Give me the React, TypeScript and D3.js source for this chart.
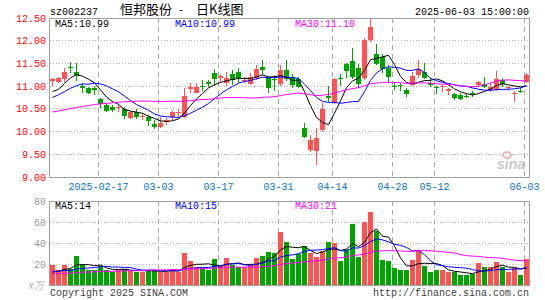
import React from 'react'
import * as d3 from 'd3'

// trading days shown (2025)
const dates = [
  '02-05','02-06','02-07','02-10','02-11','02-12','02-13','02-14','02-17','02-18',
  '02-19','02-20','02-21','02-24','02-25','02-26','02-27','02-28','03-03','03-04',
  '03-05','03-06','03-07','03-10','03-11','03-12','03-13','03-14','03-17','03-18',
  '03-19','03-20','03-21','03-24','03-25','03-26','03-27','03-28','03-31','04-01',
  '04-02','04-03','04-07','04-08','04-09','04-10','04-11','04-14','04-15','04-16',
  '04-17','04-18','04-21','04-22','04-23','04-24','04-25','04-28','04-29','04-30',
  '05-06','05-07','05-08','05-09','05-12','05-13','05-14','05-15','05-16','05-19',
  '05-20','05-21','05-22','05-23','05-26','05-27','05-28','05-29','05-30','06-03',
]

const opens = [
  11.11,11.10,11.15,11.42,11.32,11.01,10.96,10.95,10.72,10.58,
  10.54,10.53,10.49,10.29,10.42,10.32,10.32,10.16,10.10,10.20,
  10.31,10.40,10.32,10.93,10.86,11.01,11.10,11.28,11.19,11.06,
  11.26,11.32,11.12,11.04,11.18,11.43,11.17,11.16,11.04,11.35,
  11.21,11.15,10.08,9.59,9.57,10.03,10.78,10.64,11.17,11.49,
  11.55,11.40,11.17,12.01,11.71,11.65,11.40,11.01,11.02,10.91,
  11.02,11.24,11.32,11.08,10.99,10.98,10.90,10.83,10.80,10.79,
  10.85,11.02,11.04,10.91,10.91,11.13,10.97,10.83,10.90,11.09,
]
const highs = [
  11.19,11.20,11.39,11.54,11.51,11.08,10.99,11.01,10.74,10.61,
  10.58,10.58,10.55,10.45,10.49,10.40,10.36,10.25,10.32,10.30,
  10.47,10.49,10.95,11.06,11.06,11.13,11.13,11.37,11.27,11.32,
  11.35,11.39,11.21,11.28,11.46,11.57,11.21,11.24,11.46,11.57,
  11.26,11.20,10.18,9.92,10.07,10.62,11.00,11.17,11.26,11.51,
  11.85,11.48,12.05,12.49,11.92,11.70,11.46,11.10,11.06,10.95,
  11.32,11.57,11.50,11.17,11.01,11.03,10.96,10.85,10.84,10.84,
  10.90,11.12,11.21,11.06,11.34,11.19,11.01,10.90,10.95,11.28,
]
const lows = [
  11.01,11.08,11.10,11.28,11.11,10.86,10.82,10.80,10.51,10.42,
  10.43,10.43,10.27,10.27,10.27,10.25,10.13,10.05,10.08,10.15,
  10.25,10.31,10.29,10.84,10.84,10.89,10.99,11.01,11.10,11.01,
  11.02,11.08,11.06,11.02,11.13,11.24,10.85,10.89,11.01,11.12,
  10.95,10.97,9.86,9.55,9.26,9.98,10.64,10.60,11.00,11.17,
  11.15,10.96,11.13,11.98,11.46,11.30,11.06,10.91,10.89,10.76,
  11.00,11.18,11.16,10.99,10.83,10.88,10.80,10.70,10.69,10.73,
  10.77,10.99,10.95,10.88,10.90,10.99,10.90,10.65,10.84,11.06,
]
const closes = [
  11.15,11.18,11.32,11.40,11.23,10.96,10.86,10.92,10.61,10.45,
  10.47,10.55,10.35,10.44,10.33,10.34,10.23,10.10,10.18,10.26,
  10.42,10.42,10.78,10.99,10.99,11.00,11.04,11.15,11.22,11.19,
  11.13,11.17,11.14,11.21,11.37,11.35,10.95,11.15,11.35,11.16,
  11.02,10.99,9.88,9.81,9.85,10.49,10.73,11.15,11.15,11.33,
  11.21,11.04,12.01,12.31,11.49,11.37,11.21,11.00,11.00,10.82,
  11.22,11.38,11.19,11.03,10.98,11.00,10.94,10.75,10.71,10.78,
  10.84,11.10,10.99,10.98,11.15,11.04,10.99,10.85,10.89,11.25,
]
// volume, 万手
const volumes = [
  19.7,14.9,19.7,15.9,28.2,20.6,14.9,14.9,18.7,14.9,
  13.0,14.9,15.9,14.9,12.4,12.4,14.9,14.9,13.0,12.4,
  15.9,12.4,31.4,23.8,17.4,16.5,14.3,25.4,18.1,26.6,
  19.7,17.4,17.4,19.7,26.6,28.2,32.3,31.4,51.4,41.8,
  25.4,30.1,37.7,31.4,27.6,33.0,41.8,40.3,23.8,34.9,
  58.6,27.6,60.2,70.4,52.0,24.4,23.5,17.1,14.3,14.3,
  24.4,33.9,19.0,13.3,14.3,14.3,13.3,12.4,10.1,10.1,
  10.8,21.9,17.4,17.4,22.8,17.4,12.4,16.5,10.1,25.4,
]

// sessions before the window, guessed from where the MA lines start
const priorCloses = [
  10.45,10.55,10.60,10.50,10.30,10.25,10.20,10.23,
  10.15,10.10,10.05,10.12,10.20,10.18,10.25,10.30,10.22,10.28,10.20,10.25,
  10.58,10.62,10.66,10.67,10.57,
  10.93,10.67,10.80,10.85,
]
const priorVolumes = [
  10,11,10.5,9.5,11,10,10.5,11,10,10.2,
  9,9.5,8.8,10,9.2,8.5,9.8,9.5,9,10,
  15,13.5,16,14,14,
  11,10.5,11.5,10.8,
]

const priceTicks = [12.5, 12, 11.5, 11, 10.5, 10, 9.5, 9]
const volTicks = [80, 60, 40, 20]
const dateTicks = ['02-17','03-03','03-17','03-31','04-14','04-28','05-12','06-03']
const dateTickLabels = ['2025-02-17','03-03','03-17','03-31','04-14','04-28','05-12','06-03']
const maPeriods = [5, 10, 30]
const maColors = ['#000000', '#0000ff', '#ff00ff']
const priceMaLabels = ['MA5:10.99', 'MA10:10.99', 'MA30:11.10']
const volMaLabels = ['MA5:14', 'MA10:15', 'MA30:21']

const W = 545, H = 300
const left = 50, right = 530
const mono = '"Liberation Mono", "DejaVu Sans Mono", monospace'
const UP = '#ff5252', DOWN = '#00a300'

const movingAvg = (prior: number[], vals: number[], n: number) => {
  const all = prior.concat(vals)
  return vals.map((_, i) => d3.mean(all.slice(prior.length + i - n + 1, prior.length + i + 1)) as number)
}

export default function App() {
  const x = d3.scaleBand<string>().domain(dates).range([left, right])
  const y = d3.scaleLinear().domain([9, 12.5]).range([177, 18])
  const yv = d3.scaleLinear().domain([0, 80]).range([285.5, 201.5])
  const cx = (i: number) => (x(dates[i]) as number) + 2.5
  const crisp = (v: number) => Math.floor(v) + 0.5

  const priceMa = maPeriods.map(n => movingAvg(priorCloses, closes, n))
  const volMa = maPeriods.map(n => movingAvg(priorVolumes, volumes, n))
  const pLine = d3.line<number>().x((_, i) => cx(i)).y(d => y(d))
  const vLine = d3.line<number>().x((_, i) => cx(i)).y(d => yv(d))

  return (
    <svg width={W} height={H} style={{ position: 'absolute', left: 0, top: 0, background: '#fff' }}>
      <rect width={W} height={H} fill="#fff" />
      {/* horizontal grid */}
      {priceTicks.slice(1, -1).map(t => (
        <line key={t} x1={left} x2={right} y1={crisp(y(t))} y2={crisp(y(t))} stroke="#b4b4b4" strokeDasharray="1,2" />
      ))}
      {volTicks.slice(1).map(t => (
        <line key={t} x1={left} x2={right} y1={crisp(yv(t))} y2={crisp(yv(t))} stroke="#b4b4b4" strokeDasharray="1,2" />
      ))}
      {/* vertical grid */}
      {dateTicks.map(d => {
        const gx = (x(d) as number) + 0.5
        return (
          <g key={d}>
            <line x1={gx} x2={gx} y1={18} y2={177} stroke="#a8a8a8" strokeDasharray="5,4" />
            <line x1={gx} x2={gx} y1={201} y2={285} stroke="#a8a8a8" strokeDasharray="5,4" />
          </g>
        )
      })}

      {/* sina watermark */}
      <ellipse cx={507} cy={155} rx={4} ry={3} fill="none" stroke="#f0a8a8" strokeWidth={1.5} />
      <text x={497} y={169} fontFamily="Arial, Liberation Sans, sans-serif" fontStyle="italic" fontWeight="bold" fontSize={14} fill="#c8c8c8">sina</text>

      {/* candles */}
      {dates.map((d, i) => {
        const o = opens[i], c = closes[i]
        const col = c >= o ? UP : DOWN
        const top = y(Math.max(o, c)), bot = y(Math.min(o, c))
        return (
          <g key={d} shapeRendering="crispEdges">
            <line x1={cx(i)} x2={cx(i)} y1={y(highs[i])} y2={y(lows[i])} stroke={col} />
            <rect x={x(d)} y={top} width={5} height={Math.max(1, bot - top)} fill={col} />
          </g>
        )
      })}
      {/* volume bars */}
      {dates.map((d, i) => (
        <rect key={d} x={x(d)} y={yv(volumes[i])} width={5} height={yv(0) - yv(volumes[i])}
          fill={closes[i] >= opens[i] ? UP : DOWN} shapeRendering="crispEdges" />
      ))}

      {/* moving averages */}
      {priceMa.map((m, k) => <path key={k} d={pLine(m) as string} fill="none" stroke={maColors[k]} strokeWidth={1} />)}
      {volMa.map((m, k) => <path key={k} d={vLine(m) as string} fill="none" stroke={maColors[k]} strokeWidth={1} />)}

      {/* frames */}
      <rect x={49.5} y={18.5} width={480} height={159} fill="none" stroke="#a0a0a0" />
      <rect x={49.5} y={201.5} width={480} height={84} fill="none" stroke="#a0a0a0" />

      {/* header */}
      <text x={50} y={15} fontFamily={mono} fontSize={10} fill="#000">sz002237</text>
      <text x={120} y={14} fontFamily='"Noto Sans CJK SC", sans-serif' fontSize={13} fill="#000">恒邦股份</text>
      <text x={181} y={13} fontFamily={mono} fontSize={11} textAnchor="middle" fill="#000">-</text>
      <text x={196} y={14} fontFamily='"Noto Sans CJK SC", sans-serif' fontSize={13} fill="#000">日K线图</text>
      <text x={529} y={15} fontFamily={mono} fontSize={10} textAnchor="end" fill="#000">2025-06-03 15:00:00</text>

      {priceMaLabels.map((t, k) => (
        <text key={t} x={[55, 175, 295][k]} y={27} fontFamily={mono} fontSize={10} fill={maColors[k]}>{t}</text>
      ))}
      {volMaLabels.map((t, k) => (
        <text key={t} x={[55, 175, 295][k]} y={209} fontFamily={mono} fontSize={10} fill={maColors[k]}>{t}</text>
      ))}

      {/* y axes */}
      {priceTicks.map(t => (
        <text key={t} x={46} y={y(t) + 3.5} fontFamily={mono} fontSize={10} textAnchor="end" fill="#ff0000">{t.toFixed(2)}</text>
      ))}
      {volTicks.map(t => (
        <text key={t} x={46} y={yv(t) + 3.5} fontFamily={mono} fontSize={10} textAnchor="end" fill="#999">{t}</text>
      ))}
      <text x={28} y={289} fontFamily={mono} fontSize={10} fontStyle="italic" fill="#b0b0b0">x万</text>

      {/* x axis */}
      {dateTicks.map((d, k) => (
        <text key={d} x={(x(d) as number) + 0.5} y={190} fontFamily={mono} fontSize={10} textAnchor="middle" fill="#0a74c8">{dateTickLabels[k]}</text>
      ))}

      <text x={50} y={296} fontFamily={mono} fontSize={10} fill="#404040">Copyright 2025 SINA.COM</text>
      <text x={529} y={296} fontFamily={mono} fontSize={10} textAnchor="end" fill="#404040">http://finance.sina.com.cn</text>
    </svg>
  )
}
